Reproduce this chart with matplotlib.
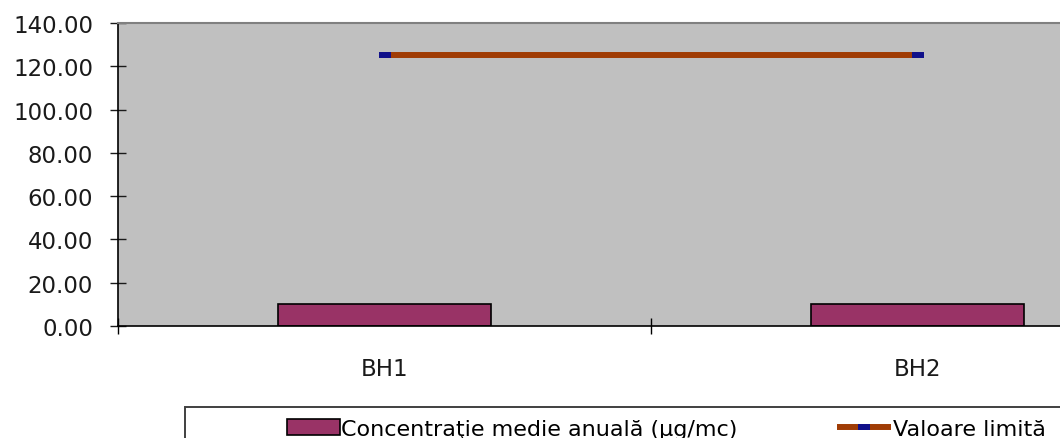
import numpy as np
import matplotlib.pyplot as plt
from matplotlib.patches import Rectangle
from matplotlib.ticker import FormatStrFormatter

# data
stations = ["BH1", "BH2"]
concentratie = [10.0, 10.0]
valoare_limita = [125.0, 125.0]
yticks = [0, 20, 40, 60, 80, 100, 120, 140]

plt.rcParams['font.family'] = ['DejaVu Sans']

fig = plt.figure(figsize=(10.6, 4.39), dpi=100)
W, H = 1060.0, 439.0
ax = fig.add_axes([118 / W, 1 - 327 / H, (1184 - 118) / W, (327 - 24) / H])
ax.set_facecolor('#C0C0C0')

x = np.arange(len(stations))
bars = ax.bar(x, concentratie, width=0.4, color='#993366', edgecolor='black',
              linewidth=1.2, label='Concentraţie medie anuală (µg/mc)', zorder=2)
line, = ax.plot(x, valoare_limita, color='#A03C05', linewidth=4.3,
                solid_capstyle='butt', marker='_', markersize=9,
                markeredgewidth=4.3, markeredgecolor='#10108A',
                label='Valoare limită', zorder=3)

ax.set_xlim(-0.5, 1.5)
ax.set_ylim(0, 140)
ax.set_yticks(yticks)
ax.yaxis.set_major_formatter(FormatStrFormatter('%.2f'))
ax.tick_params(axis='y', direction='inout', length=12, width=1, pad=12,
               labelsize=16.5, colors='#1a1a1a')

ax.set_xticks(x)
ax.set_xticklabels(stations)
ax.tick_params(axis='x', which='major', length=0, pad=22, labelsize=16.5,
               colors='#1a1a1a')
ax.set_xticks([-0.5, 0.5, 1.5], minor=True)
ax.tick_params(axis='x', which='minor', direction='inout', length=12, width=1)

for s in ['left', 'bottom']:
    ax.spines[s].set_color('black')
    ax.spines[s].set_linewidth(1.2)
ax.spines['top'].set_color('#808080')
ax.spines['top'].set_linewidth(1.5)
ax.spines['right'].set_visible(False)

# legend frame, runs off the right and bottom edge like the source
frame = Rectangle((185 / W, -0.2), 1.0, 0.2 + 1 - 408 / H, transform=fig.transFigure,
                  facecolor='white', edgecolor='#404040', linewidth=1.4,
                  clip_on=False)
fig.patches.append(frame)

leg1 = fig.legend(handles=[bars], loc='center left',
                  bbox_to_anchor=(287 / W, 1 - 430 / H), frameon=False,
                  fontsize=16, handlelength=2.4, handleheight=0.7,
                  handletextpad=0.05, borderpad=0, borderaxespad=0)
leg2 = fig.legend(handles=[line], loc='center left',
                  bbox_to_anchor=(837 / W, 1 - 430 / H), frameon=False,
                  fontsize=16, handlelength=2.45, handletextpad=0.05,
                  borderpad=0, borderaxespad=0)

fig.savefig('out.png', dpi=100)
